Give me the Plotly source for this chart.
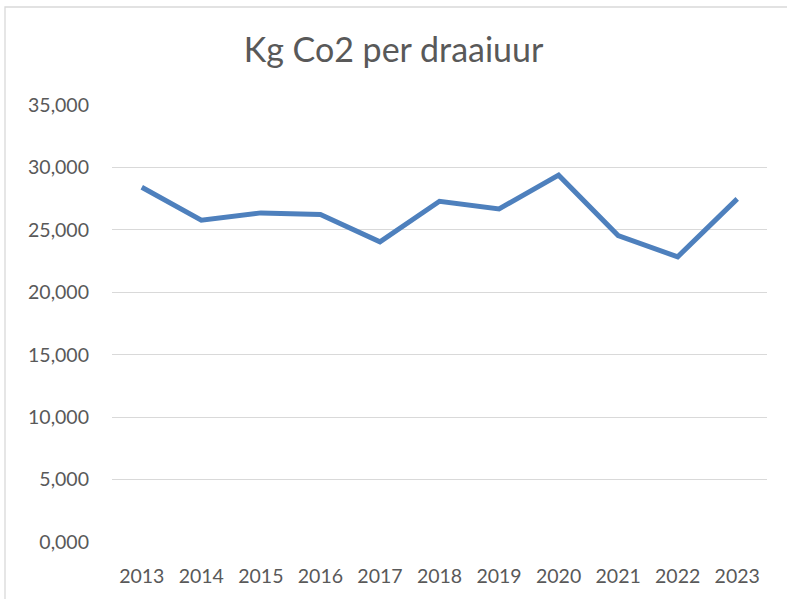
import plotly.graph_objects as go

years = ["2013", "2014", "2015", "2016", "2017", "2018", "2019", "2020", "2021", "2022", "2023"]
kg_co2 = [28.41, 25.77, 26.36, 26.23, 24.04, 27.29, 26.68, 29.38, 24.54, 22.84, 27.48]
y_ticks = [0, 5, 10, 15, 20, 25, 30, 35]

W, H = 787, 599
L, R, T, B = 112, 20, 105, 57
pw = W - L - R
ph = H - T - B

def px_x(p):
    return (p - L) / pw

def px_y(p):
    return (H - B - p) / ph

fig = go.Figure()
fig.add_trace(go.Scatter(
    x=years, y=kg_co2, mode="lines",
    line=dict(color="#4e80bd", width=5),
    hoverinfo="x+y",
))

fig.update_layout(
    width=W, height=H,
    margin=dict(l=L, r=R, t=T, b=B),
    paper_bgcolor="white", plot_bgcolor="white",
    separators=",.",
    showlegend=False,
    font=dict(family="Lato, 'Open Sans', sans-serif", color="#595959", size=19.5),
    title=dict(text="Kg Co2 per draaiuur", x=0.5, xanchor="center",
               y=1 - 50 / H, yanchor="middle",
               font=dict(size=34, color="#595959")),
    xaxis=dict(type="category", range=[-0.5, len(years) - 0.5],
               showgrid=False, zeroline=False, showline=False,
               ticks="", ticklabelstandoff=20, fixedrange=True),
    yaxis=dict(range=[0, 35], tickvals=y_ticks, tickformat=".3f",
               showgrid=True, gridcolor="#d9d9d9", gridwidth=1.3,
               zeroline=False, showline=False, ticks="",
               ticklabelstandoff=22, fixedrange=True),
    shapes=[dict(type="rect", xref="paper", yref="paper",
                 x0=px_x(5), x1=px_x(820), y0=px_y(630), y1=px_y(7),
                 line=dict(color="#d9d9d9", width=1.3), layer="below")],
)

fig.write_html("out.html", config={"displayModeBar": False},
               post_script="document.body.style.margin='0';document.body.style.overflow='hidden';")
